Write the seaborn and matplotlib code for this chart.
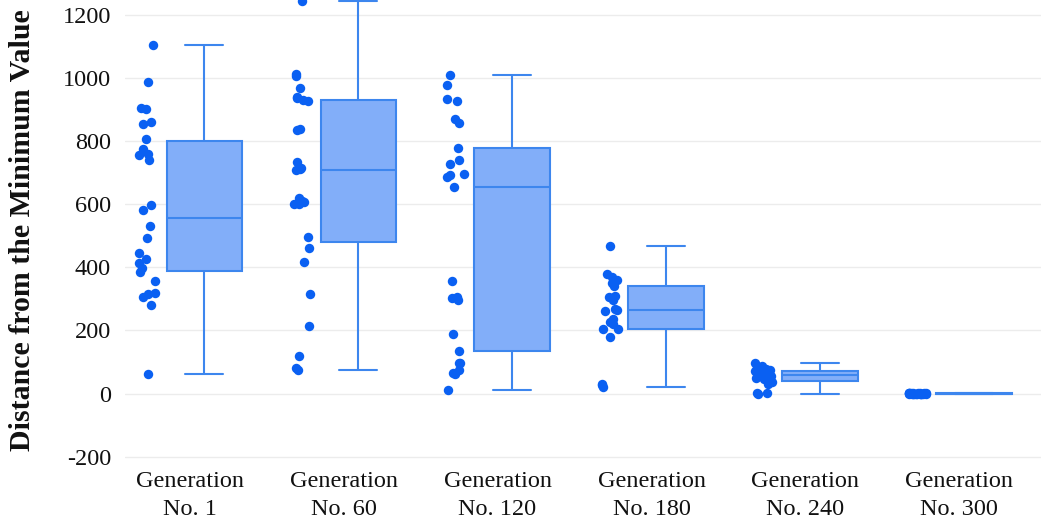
import numpy as np
import pandas as pd
import matplotlib
matplotlib.use('Agg')
import matplotlib.pyplot as plt
import seaborn as sns

# values
generations = ['Generation\nNo. 1', 'Generation\nNo. 60', 'Generation\nNo. 120',
               'Generation\nNo. 180', 'Generation\nNo. 240', 'Generation\nNo. 300']

gen_1 = [62, 281, 307, 316, 318, 355, 386, 398, 415, 425, 445, 493, 530, 582, 598,
         740, 756, 760, 775, 807, 855, 860, 900, 905, 988, 1104]
gen_60 = [75, 80, 119, 215, 316, 417, 462, 496, 600, 601, 605, 609, 620, 709, 712,
          715, 733, 833, 839, 925, 931, 935, 940, 969, 1005, 1011, 1244]
gen_120 = [13, 62, 64, 75, 97, 98, 135, 188, 297, 302, 307, 357, 655, 685, 691,
           695, 727, 740, 778, 858, 868, 926, 932, 977, 1009]
gen_180 = [22, 27, 30, 180, 204, 205, 220, 228, 236, 262, 265, 269, 297, 305, 310,
           342, 350, 360, 368, 378, 468]
gen_240 = [0, 1, 2, 30, 36, 40, 46, 50, 53, 56, 59, 61, 63, 65, 68, 71, 74, 77,
           82, 88, 96]
gen_300 = [0, 0, 1, 0, 2, 0, 1, 0, 0, 1, 3, 0, 1, 0, 2, 0, 0, 1, 0, 1]

series = [gen_1, gen_60, gen_120, gen_180, gen_240, gen_300]
y_ticks = [-200, 0, 200, 400, 600, 800, 1000, 1200]

POINT = '#0a60f2'
EDGE = '#3d86ee'
FILL = '#82aef9'

rows = []
for i, vals in enumerate(series):
    for v in vals:
        rows.append({'idx': i, 'value': v})
df = pd.DataFrame(rows)

sns.set_theme(style='white')
plt.rcParams['font.family'] = ['Liberation Serif', 'DejaVu Serif']
np.random.seed(3)

fig = plt.figure(figsize=(10.41, 5.25), dpi=100)
ax = fig.add_axes([125 / 1041, 60 / 525, 916 / 1041, 465 / 525])

# box to the right of the category centre, points to the left
sns.boxplot(x=df['idx'] + 0.095, y=df['value'], native_scale=True, width=0.49,
            color=FILL, saturation=1, linecolor=EDGE, linewidth=1.5,
            showfliers=False, ax=ax)
sns.stripplot(x=df['idx'] - 0.275, y=df['value'], native_scale=True, jitter=0.06,
              size=6.8, color=POINT, linewidth=0, ax=ax, zorder=3)

ax.set_xlim(-0.42, 5.53)
ax.set_ylim(-226, 1246)
ax.set_xticks(range(len(generations)))
ax.set_xticklabels(generations, linespacing=1.45)
ax.set_yticks(y_ticks)
ax.set_yticklabels([str(t) for t in y_ticks])
ax.tick_params(axis='both', length=0, labelsize=17.5, colors='#111111')
ax.tick_params(axis='y', pad=10)
ax.tick_params(axis='x', pad=4)

ax.yaxis.grid(True, color='#ececec', linewidth=1)
ax.xaxis.grid(False)
ax.set_axisbelow(True)
for s in ax.spines.values():
    s.set_visible(False)

ax.set_xlabel('')
ax.set_ylabel('Distance from the Minimum Value', fontsize=21.5, fontweight='bold',
              color='#111111')
ax.yaxis.set_label_coords(-0.097, 0.505)

fig.savefig('out.png', dpi=100)
